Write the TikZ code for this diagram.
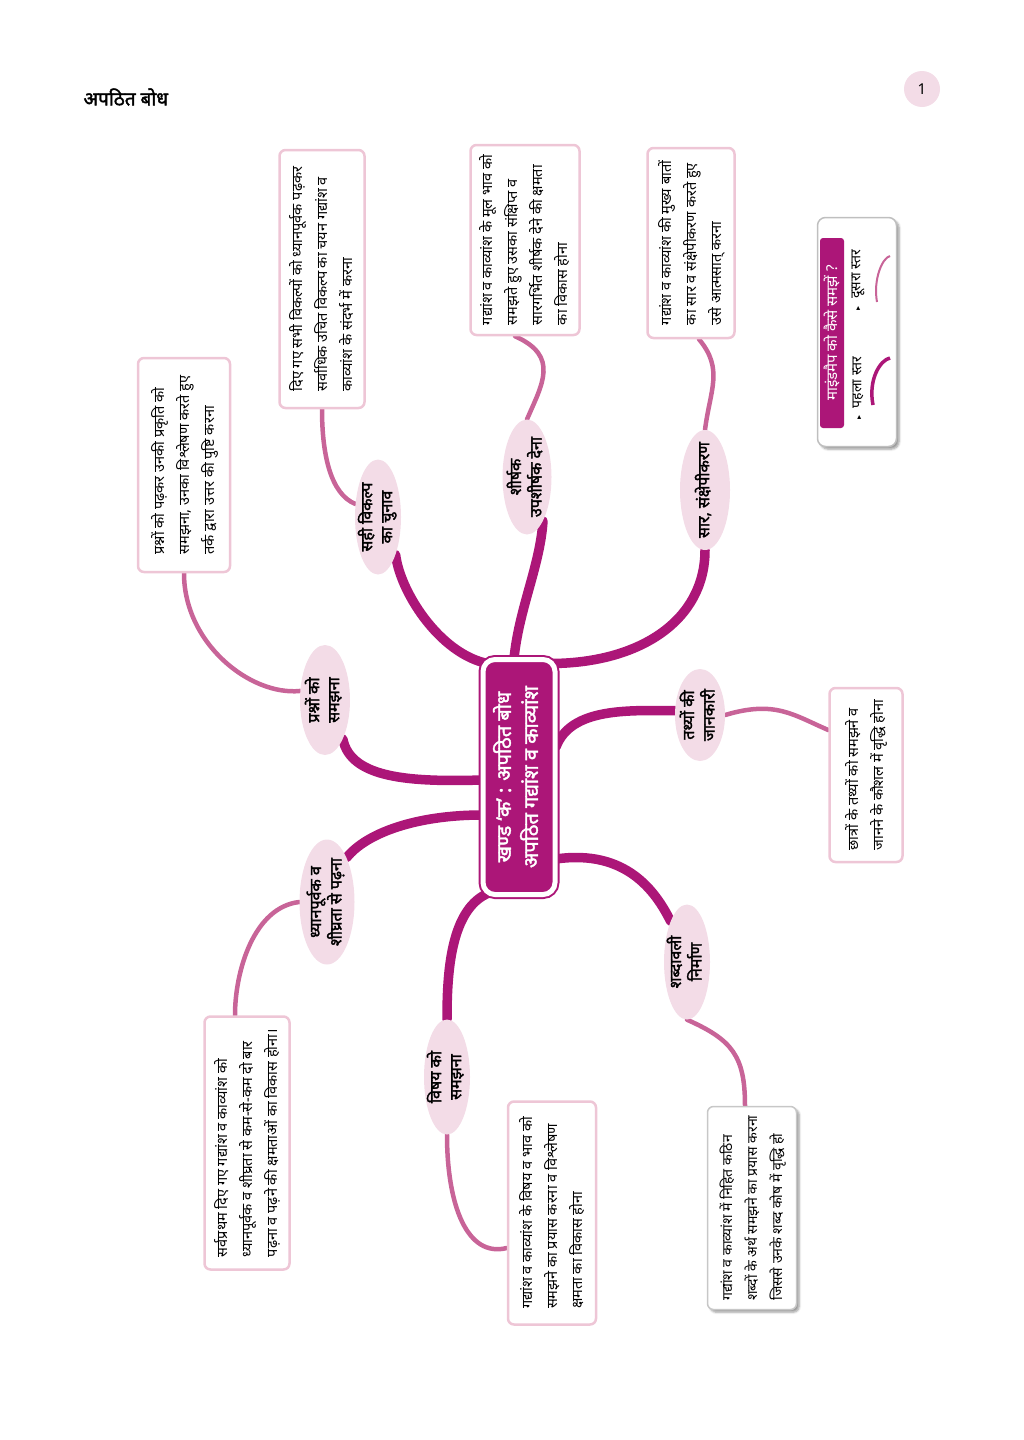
\documentclass[tikz,border=0pt]{standalone}
\usepackage{fontspec}
\setmainfont{Noto Sans}[Script=Devanagari]
\newfontfamily\hindibold{Noto Sans}[Script=Devanagari, FakeBold=2]
\newfontfamily\symfont{DejaVu Sans}
\usepackage{graphicx}
\usetikzlibrary{shapes.geometric, positioning, calc, backgrounds, shadows.blur}

\definecolor{mapmag}{RGB}{172,22,120}
\definecolor{mappink}{RGB}{200,100,152}
\definecolor{bubble}{RGB}{243,220,231}
\definecolor{boxline}{RGB}{238,198,214}

% rotated text blocks (read from bottom to top)
\newcommand{\vlines}[1]{\rotatebox{90}{\begin{tabular}{@{}l@{}}#1\end{tabular}}}
\newcommand{\vmid}[1]{\rotatebox{90}{\begin{tabular}{@{}c@{}}#1\end{tabular}}}

\begin{document}
\begin{tikzpicture}[
    x=1pt, y=-1pt,
    font=\fontsize{14.5}{25}\selectfont,
    hub/.style={rectangle, fill=mapmag, draw=mapmag, double=white, double distance=5pt, line width=2pt, rounded corners=12pt, minimum width=72pt, minimum height=235pt, text=white, font=\hindibold\fontsize{20}{27}\selectfont},
    topic/.style={ellipse, fill=bubble, inner sep=-7pt, font=\hindibold\fontsize{16}{20}\selectfont},
    infobox/.style={rectangle, draw=boxline, line width=2.5pt, fill=white, rounded corners=6pt, inner sep=0pt},
    greybox/.style={infobox, draw=black!22, line width=1.5pt, blur shadow={shadow blur steps=5}},
    branch/.style={draw=mapmag, line width=9.5pt, line cap=round},
    twig/.style={draw=mappink, line width=4.5pt, line cap=round},
    legendbox/.style={rectangle, draw=black!25, line width=1.5pt, fill=white, rounded corners=8pt, minimum width=79pt, minimum height=229pt, blur shadow={shadow blur steps=5}}
]
\useasboundingbox (0,0) rectangle (1024,1440);

% ---- Header ----
\node[anchor=west, font=\hindibold\fontsize{19}{22}\selectfont] (title) at (80,97) {अपठित बोध};
\node[circle, fill=bubble, minimum size=36pt, font=\fontsize{15}{18}\selectfont] (pageno) at (922,89) {1};

% ---- Centre ----
\node[hub] (hub) at (519,777) {\vmid{खण्ड ‘क’ : अपठित बोध\\अपठित गद्यांश व काव्यांश}};

% ---- First level ----
\node[topic, minimum width=50pt, minimum height=110pt] (e1) at (325,700) {\vmid{प्रश्नों को\\समझना}};
\node[topic, minimum width=46pt, minimum height=115pt] (e2) at (378,517) {\vmid{सही विकल्प\\का चुनाव}};
\node[topic, minimum width=49pt, minimum height=115pt] (e3) at (527,477) {\vmid{शीर्षक\\उपशीर्षक देना}};
\node[topic, minimum width=50pt, minimum height=120pt] (e4) at (705,490) {\vmid{सार, संक्षेपीकरण}};
\node[topic, minimum width=50pt, minimum height=92pt] (e5) at (700,715) {\vmid{तथ्यों की\\जानकारी}};
\node[topic, minimum width=46pt, minimum height=115pt] (e6) at (687,962) {\vmid{शब्दावली\\निर्माण}};
\node[topic, minimum width=46pt, minimum height=115pt] (e7) at (447,1077) {\vmid{विषय को\\समझना}};
\node[topic, minimum width=55pt, minimum height=125pt] (e8) at (327,902) {\vmid{ध्यानपूर्वक व\\शीघ्रता से पढ़ना}};

% ---- Second level ----
\node[infobox, minimum width=92pt, minimum height=214pt] (bA) at (184,465) {\vlines{प्रश्नों को पढ़कर उनकी प्रकृति को\\समझना, उनका विश्लेषण करते हुए\\तर्क द्वारा उत्तर की पुष्टि करना}};
\node[infobox, minimum width=85pt, minimum height=258pt] (bB) at (322,279) {\vlines{दिए गए सभी विकल्पों को ध्यानपूर्वक पढ़कर\\सर्वाधिक उचित विकल्प का चयन गद्यांश व\\काव्यांश के संदर्भ में करना}};
\node[infobox, minimum width=109pt, minimum height=190pt] (bC) at (525,240) {\vlines{गद्यांश व काव्यांश के मूल भाव को\\समझते हुए उसका संक्षिप्त व\\सारगर्भित शीर्षक देने की क्षमता\\का विकास होना}};
\node[infobox, minimum width=87pt, minimum height=190pt] (bD) at (691,243) {\vlines{गद्यांश व काव्यांश की मुख्य बातों\\का सार व संक्षेपीकरण करते हुए\\उसे आत्मसात् करना}};
\node[infobox, minimum width=73pt, minimum height=174pt] (bE) at (866,775) {\vlines{छात्रों के तथ्यों को समझने व\\जानने के कौशल में वृद्धि होना}};
\node[infobox, minimum width=85pt, minimum height=253pt] (bF) at (247,1143) {\vlines{सर्वप्रथम दिए गए गद्यांश व काव्यांश को\\ध्यानपूर्वक व शीघ्रता से कम-से-कम दो बार\\पढ़ना व पढ़ने की क्षमताओं का विकास होना।}};
\node[infobox, minimum width=88pt, minimum height=223pt] (bG) at (552,1213) {\vlines{गद्यांश व काव्यांश के विषय व भाव को\\समझने का प्रयास करना व विश्लेषण\\क्षमता का विकास होना}};
\node[greybox, minimum width=89pt, minimum height=203pt, font=\fontsize{14}{25}\selectfont] (bH) at (752,1208) {\vlines{गद्यांश व काव्यांश में निहित कठिन\\शब्दों के अर्थ समझने का प्रयास करना\\जिससे उनके शब्द कोष में वृद्धि हो}};

% ---- Legend ----
\node[legendbox] (legend) at (857,332) {};
\node[fill=mapmag, rounded corners=3pt, minimum width=24pt, minimum height=190pt, inner sep=0pt, text=white, font=\fontsize{15}{17}\selectfont] (legtitle) at (832,333) {\rotatebox{90}{माइंडमैप को कैसे समझें ?}};
\node[font=\fontsize{14}{16}\selectfont, inner sep=0pt] (lvlone) at (858,388) {\rotatebox{90}{{\symfont\fontsize{8}{8}\selectfont ▸}\ \ पहला स्तर}};
\node[font=\fontsize{14}{16}\selectfont, inner sep=0pt] (lvltwo) at (858,280) {\rotatebox{90}{{\symfont\fontsize{8}{8}\selectfont ▸}\ \ दूसरा स्तर}};
\coordinate (oneLow) at (873,405);
\coordinate (oneTop) at (890,358);
\coordinate (twoLow) at (877,302);
\coordinate (twoTop) at (890,256);
\draw[mapmag, line width=3.5pt] (oneLow) .. controls +(-5,-25) and +(-10,2) .. (oneTop);
\draw[mappink, line width=2pt] (twoLow) .. controls +(-4,-22) and +(-8,2) .. (twoTop);

% ---- Connections ----
\begin{scope}[on background layer]
\draw[branch] ($(hub.west)+(0,3)$) .. controls +(-70,2) and +(8,40) .. (e1.south east);
\draw[branch] ($(hub.north west)+(12,6)$) .. controls +(-50,-5) and +(5,40) .. (e2.-65);
\draw[branch] ($(hub.north)+(-5,0)$) .. controls +(5,-50) and +(-3,45) .. (e3.-70);
\draw[branch] ($(hub.north east)+(-6,5)$) .. controls +(90,0) and +(0,70) .. (e4.south);
\draw[branch] ($(hub.east)+(0,-30)$) .. controls +(15,-40) and +(-45,0) .. (e5.170);
\draw[branch] ($(hub.east)+(0,82)$) .. controls +(70,-10) and +(-15,-30) .. (e6.north west);
\draw[branch] ($(hub.south west)+(8,-3)$) .. controls +(-40,15) and +(0,-45) .. (e7.north);
\draw[branch] ($(hub.west)+(0,38)$) .. controls +(-65,0) and +(20,-25) .. (e8.north east);

\draw[twig] (bA.south) .. controls +(0,70) and +(-50,5) .. (e1.160);
\draw[twig] (bB.south) .. controls +(0,45) and +(-25,-10) .. (e2.150);
\draw[twig] ($(bC.south)+(-10,0)$) .. controls +(45,20) and +(15,-35) .. (e3.north);
\draw[twig] ($(bD.south)+(8,0)$) .. controls +(25,30) and +(5,-40) .. (e4.north);
\draw[twig] (e5.east) .. controls +(50,-15) and +(-35,-15) .. ($(bE.west)+(0,-45)$);
\draw[twig] (e6.south) .. controls +(45,20) and +(0,-50) .. ($(bH.north)+(-7,0)$);
\draw[twig] (e7.south) .. controls +(0,70) and +(-40,10) .. ($(bG.west)+(0,35)$);
\draw[twig] (e8.west) .. controls +(-45,5) and +(0,-45) .. ($(bF.north)+(-12,0)$);
\end{scope}

\end{tikzpicture}
\end{document}
